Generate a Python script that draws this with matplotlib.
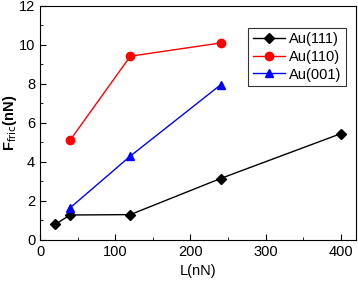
import matplotlib
matplotlib.use("Agg")
import matplotlib.pyplot as plt
from matplotlib.ticker import MultipleLocator

plt.rcParams["font.family"] = ["Liberation Sans", "DejaVu Sans"]

load_111 = [20, 40, 120, 240, 400]
fric_111 = [0.8, 1.28, 1.3, 3.15, 5.45]
load_110 = [40, 120, 240]
fric_110 = [5.12, 9.42, 10.1]
load_001 = [40, 120, 240]
fric_001 = [1.65, 4.3, 7.95]

fig = plt.figure(figsize=(3.58, 2.81), dpi=100)
ax = fig.add_axes([0.112, 0.146, 0.882, 0.833])

ax.plot(load_111, fric_111, color="black", marker="D", markersize=5, lw=1, label="Au(111)")
ax.plot(load_110, fric_110, color="red", marker="o", markersize=6, lw=1, label="Au(110)")
ax.plot(load_001, fric_001, color="blue", marker="^", markersize=6, lw=1, label="Au(001)")

ax.set_xlim(0, 420)
ax.set_ylim(0, 12)
ax.xaxis.set_major_locator(MultipleLocator(100))
ax.xaxis.set_minor_locator(MultipleLocator(50))
ax.yaxis.set_major_locator(MultipleLocator(2))
ax.yaxis.set_minor_locator(MultipleLocator(1))
ax.tick_params(which="both", direction="in", labelsize=10.5)
ax.tick_params(which="major", length=4)
ax.tick_params(which="minor", length=2)

ax.set_xlabel("L(nN)", fontsize=10.5)
ax.set_ylabel(r"F$_{\rm fric}$(nN)", fontsize=10.5, fontweight="bold")
ax.yaxis.set_label_coords(-0.066, 0.5)

leg = ax.legend(loc="upper right", bbox_to_anchor=(0.968, 0.906), fontsize=10.5,
                frameon=True, fancybox=False, edgecolor="black",
                handlelength=2.2, borderpad=0.3, labelspacing=0.25, handletextpad=0.3,
                borderaxespad=0)
leg.get_frame().set_linewidth(0.8)

fig.savefig("out.png", dpi=100)
